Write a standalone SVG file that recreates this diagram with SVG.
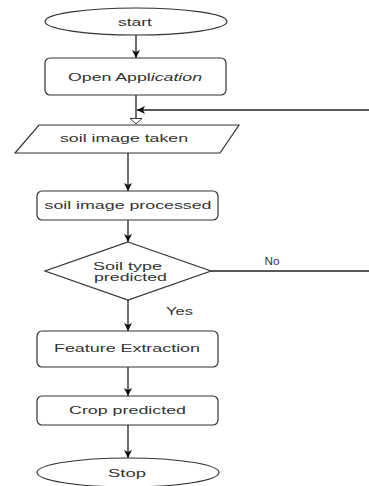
<svg xmlns="http://www.w3.org/2000/svg" width="369" height="486" viewBox="0 0 369 486">
<defs>
<style>
.n{fill:#fff;stroke:#333;stroke-width:1.2}
.t{font-family:"Liberation Sans",Arial,sans-serif;font-size:11px;fill:#333;text-anchor:middle}
.c{fill:none;stroke:#222;stroke-width:1.3}
</style>
<marker id="a" markerWidth="9" markerHeight="8" refX="8" refY="4" orient="auto" markerUnits="userSpaceOnUse">
<path d="M0,0 L8,4 L0,8 L2,4 z" fill="#111"/>
</marker>
<marker id="h" markerWidth="14" markerHeight="9" refX="7.5" refY="4.5" orient="auto" markerUnits="userSpaceOnUse">
<path d="M1,0.5 L7.5,4.5 L1,8.5" fill="#fff" stroke="#333" stroke-width="1"/>
</marker>
<marker id="o" markerWidth="10" markerHeight="14" refX="6" refY="7" orient="auto" markerUnits="userSpaceOnUse">
<path d="M0.5,1 L6,7 L0.5,13 z" fill="#fff" stroke="#333" stroke-width="1"/>
</marker>
</defs>
<g id="connectors">
<line class="c" x1="136" y1="35" x2="136" y2="58" marker-end="url(#a)"/>
<line class="c" x1="136" y1="95" x2="136" y2="124" marker-end="url(#o)"/>
<line class="c" x1="369" y1="110" x2="137" y2="110" marker-end="url(#a)"/>
<line class="c" x1="128" y1="153" x2="128" y2="191" marker-end="url(#a)"/>
<line class="c" x1="128" y1="220" x2="128" y2="242" marker-end="url(#a)"/>
<line class="c" x1="128" y1="300" x2="128" y2="331" marker-end="url(#a)"/>
<line class="c" x1="128" y1="367" x2="128" y2="396" marker-end="url(#a)"/>
<line class="c" x1="128" y1="425" x2="128" y2="458" marker-end="url(#a)"/>
<line class="c" x1="211" y1="271" x2="369" y2="271"/>
<text class="t" x="272" y="265" textLength="15" lengthAdjust="spacingAndGlyphs">No</text>
<text class="t" x="179.5" y="315" textLength="27" lengthAdjust="spacingAndGlyphs">Yes</text>
</g>
<g id="start">
<ellipse class="n" cx="136" cy="21.5" rx="91" ry="13.5"/>
<text class="t" x="135" y="26" textLength="34" lengthAdjust="spacingAndGlyphs">start</text>
</g>
<g id="open-application">
<rect class="n" x="45" y="58" width="181" height="37" rx="5"/>
<text class="t" x="135" y="81" textLength="134" lengthAdjust="spacingAndGlyphs">Open Appl<tspan font-style="italic">ication</tspan></text>
</g>
<g id="soil-image-taken">
<polygon class="n" points="39,125 239,125 220,153 15,153"/>
<text class="t" x="124" y="142" textLength="128" lengthAdjust="spacingAndGlyphs">soil image taken</text>
</g>
<g id="soil-image-processed">
<rect class="n" x="37" y="191" width="181" height="29" rx="5"/>
<text class="t" x="128" y="209" textLength="167" lengthAdjust="spacingAndGlyphs">soil image processed</text>
</g>
<g id="soil-type-predicted">
<polygon class="n" points="128,242 211,271 128,300 45,271"/>
<text class="t" x="127.5" y="270" textLength="69" lengthAdjust="spacingAndGlyphs">Soil type</text>
<text class="t" x="130.5" y="281" textLength="73" lengthAdjust="spacingAndGlyphs">predicted</text>
</g>
<g id="feature-extraction">
<rect class="n" x="37" y="331" width="181" height="36" rx="5"/>
<text class="t" x="127" y="352" textLength="146" lengthAdjust="spacingAndGlyphs">Feature Extraction</text>
</g>
<g id="crop-predicted">
<rect class="n" x="37" y="396" width="181" height="29" rx="5"/>
<text class="t" x="127.5" y="414" textLength="117" lengthAdjust="spacingAndGlyphs">Crop predicted</text>
</g>
<g id="stop">
<ellipse class="n" cx="128" cy="472.5" rx="91" ry="14.5"/>
<text class="t" x="127" y="477" textLength="38" lengthAdjust="spacingAndGlyphs">Stop</text>
</g>
</svg>
